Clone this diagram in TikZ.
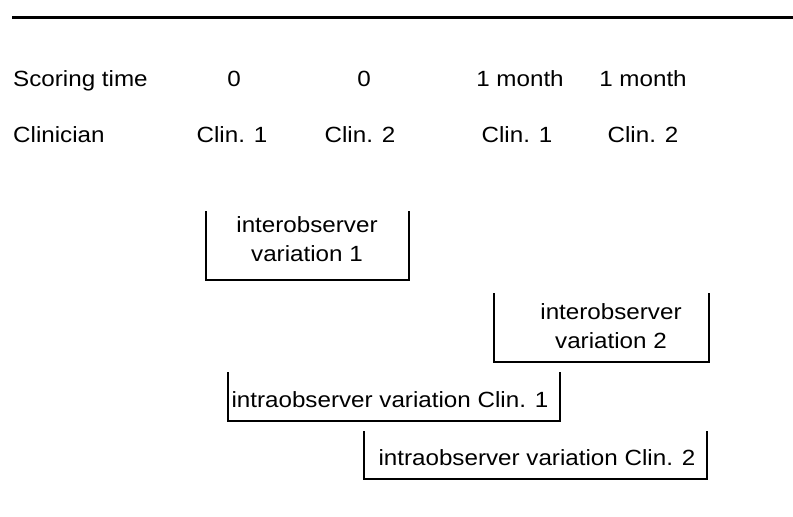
\documentclass[tikz,border=0pt]{standalone}
\usepackage{fontspec}
\setmainfont[FakeStretch=1.1]{Liberation Sans}
\begin{document}
\begin{tikzpicture}[x=1pt,y=-1pt,
  lbl/.style={inner sep=0pt, font=\fontsize{22}{29.5}\selectfont},
  brk/.style={line width=1.8pt, line cap=rect},
  boxarea/.style={inner sep=0pt, draw=none}]
\useasboundingbox (0,0) rectangle (793,517);
% top rule
\coordinate (ruleL) at (12,17);
\coordinate (ruleR) at (793,17);
\draw[line width=3pt] (ruleL) -- (ruleR);
% row 1
\node[lbl, anchor=base west] (st)  at (13,86)  {Scoring time};
\node[lbl, anchor=base] (t1) at (234,86) {0};
\node[lbl, anchor=base] (t2) at (364,86) {0};
\node[lbl, anchor=base] (t3) at (520,86) {1 month};
\node[lbl, anchor=base] (t4) at (643,86) {1 month};
% row 2
\node[lbl, anchor=base west] (cl) at (13,142) {Clinician};
\node[lbl, anchor=base] (c1) at (232,142) {Clin. 1};
\node[lbl, anchor=base] (c2) at (360,142) {Clin. 2};
\node[lbl, anchor=base] (c3) at (517,142) {Clin. 1};
\node[lbl, anchor=base] (c4) at (643,142) {Clin. 2};
% box 1
\node[boxarea, minimum width=203pt, minimum height=68pt] (b1) at (307.5,246) {};
\node[lbl, align=center] (l1) at (307,239) {interobserver\\variation 1};
\draw[brk] (b1.north west) |- (b1.south east) -- (b1.north east);
% box 2
\node[boxarea, minimum width=215pt, minimum height=68pt] (b2) at (601.5,328) {};
\node[lbl, align=center] (l2) at (611,326) {interobserver\\variation 2};
\draw[brk] (b2.north west) |- (b2.south east) -- (b2.north east);
% box 3
\node[boxarea, minimum width=332pt, minimum height=48pt] (b3) at (394,397) {};
\node[lbl, anchor=base] (l3) at (390,407) {intraobserver variation Clin. 1};
\draw[brk] (b3.north west) |- (b3.south east) -- (b3.north east);
% box 4
\node[boxarea, minimum width=343pt, minimum height=47pt] (b4) at (535.5,455.5) {};
\node[lbl, anchor=base] (l4) at (537,465) {intraobserver variation Clin. 2};
\draw[brk] (b4.north west) |- (b4.south east) -- (b4.north east);
\end{tikzpicture}
\end{document}
